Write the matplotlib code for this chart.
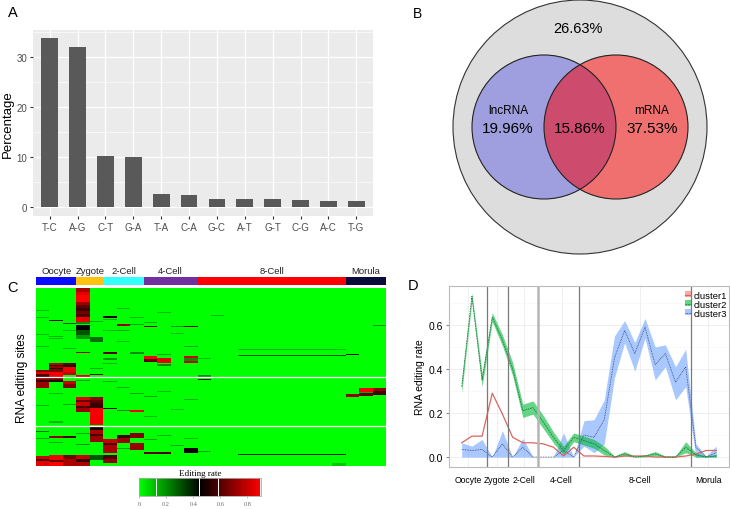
import numpy as np
import matplotlib
matplotlib.use('Agg')
import matplotlib.pyplot as plt
from matplotlib.colors import LinearSegmentedColormap, Normalize
from matplotlib.patches import Circle, Patch
from matplotlib.lines import Line2D
from matplotlib.cm import ScalarMappable

plt.rcParams['font.family'] = ['Liberation Sans', 'DejaVu Sans']

W, H = 730, 510

# ---- panel A: substitution types
subs = ['T-C', 'A-G', 'C-T', 'G-A', 'T-A', 'C-A', 'G-C', 'A-T', 'G-T', 'C-G', 'A-C', 'T-G']
pct = [33.8, 32.0, 10.2, 10.1, 2.7, 2.5, 1.7, 1.6, 1.6, 1.4, 1.3, 1.2]

# ---- panel B: venn percentages
venn_other = 26.63
venn_lnc_only = 19.96
venn_both = 15.86
venn_mrna_only = 37.53

# ---- stages (panels C and D)
stages = ['Oocyte', 'Zygote', '2-Cell', '4-Cell', '8-Cell', 'Morula']
stage_n = [3, 2, 3, 4, 11, 3]
stage_colors = ['#0b0bff', '#ffc20e', '#33ffff', '#7030a0', '#ff0000', '#0b0b3b']

# ---- panel C: editing rate per site; green (0) unless listed
n_sites = 178
# (first col, last col, first row, end row, rate)
hot_cells = [
    # cluster block 1
    (3, 3, 0, 4, 0.75), (3, 3, 4, 7, 0.85), (3, 3, 7, 14, 0.9), (3, 3, 14, 17, 0.72),
    (3, 3, 17, 20, 0.62), (3, 3, 20, 23, 0.55), (3, 3, 23, 26, 0.65), (3, 3, 26, 29, 0.6),
    (3, 3, 29, 34, 0.86), (3, 3, 34, 36, 0.2), (3, 3, 37, 42, 0.45), (3, 3, 42, 47, 0.3),
    (3, 3, 47, 51, 0.18), (4, 4, 49, 54, 0.25), (5, 5, 28, 30, 0.5), (5, 5, 31, 32, 0.15),
    (5, 5, 64, 66, 0.6), (5, 5, 70, 72, 0.18), (1, 1, 32, 33, 0.5), (2, 2, 35, 36, 0.3),
    (6, 6, 36, 38, 0.7), (7, 7, 64, 66, 0.2), (8, 8, 68, 71, 0.88), (8, 8, 71, 74, 0.6),
    (8, 8, 38, 39, 0.6), (9, 9, 70, 75, 0.85), (9, 9, 76, 78, 0.2), (11, 11, 68, 70, 0.82),
    (11, 11, 70, 73, 0.2), (11, 11, 73, 75, 0.8), (11, 11, 38, 39, 0.6),
    (1, 1, 75, 77, 0.75), (1, 1, 77, 78, 0.55), (1, 1, 78, 80, 0.7), (1, 1, 80, 81, 0.52),
    (1, 1, 81, 84, 0.68), (1, 1, 84, 89, 0.88),
    (2, 2, 75, 77, 0.62), (2, 2, 77, 79, 0.52), (2, 2, 79, 84, 0.88), (2, 2, 84, 87, 0.8),
    (0, 0, 82, 84, 0.7), (0, 0, 84, 86, 0.85), (0, 0, 86, 89, 0.6),
    (3, 3, 64, 65, 0.75), (3, 3, 87, 89, 0.85), (4, 4, 86, 87, 0.6),
    (0, 0, 29, 30, 0.12), (0, 0, 58, 59, 0.12), (1, 1, 50, 51, 0.12), (6, 6, 53, 54, 0.12),
    (0, 0, 22, 23, 0.12), (1, 1, 48, 49, 0.14), (2, 2, 42, 43, 0.12), (4, 4, 33, 34, 0.14),
    (5, 5, 42, 43, 0.12), (6, 6, 20, 21, 0.12), (7, 7, 29, 30, 0.12), (8, 8, 34, 35, 0.14),
    (9, 9, 24, 25, 0.12), (10, 10, 45, 46, 0.12), (11, 11, 58, 59, 0.16), (12, 12, 70, 71, 0.12),
    (2, 2, 60, 61, 0.12), (0, 0, 46, 47, 0.12), (6, 6, 42, 43, 0.16), (7, 7, 36, 37, 0.16),
    (9, 9, 66, 67, 0.16), (10, 10, 38, 39, 0.2), (5, 5, 75, 76, 0.14), (4, 4, 80, 81, 0.14),
    (15, 22, 61, 62, 0.12), (15, 22, 67, 68, 0.3), (23, 23, 66, 67, 0.45),
    (25, 25, 37, 38, 0.18), (13, 13, 27, 28, 0.12), (12, 12, 87, 89, 0.18),
    # cluster block 2
    (0, 0, 89, 92, 0.7), (0, 0, 92, 94, 0.55), (0, 0, 94, 100, 0.72), (1, 1, 89, 92, 0.65),
    (1, 1, 92, 94, 0.52), (2, 2, 93, 96, 0.8), (2, 2, 96, 100, 0.68),
    (3, 3, 109, 112, 0.85), (3, 3, 112, 114, 0.62), (3, 3, 114, 118, 0.8), (3, 3, 118, 120, 0.58),
    (3, 3, 120, 124, 0.72), (4, 4, 109, 112, 0.7), (4, 4, 112, 115, 0.62), (4, 4, 115, 120, 0.55),
    (4, 4, 120, 137, 0.88), (5, 5, 120, 121, 0.5), (7, 7, 122, 124, 0.88),
    (24, 24, 100, 104, 0.88), (24, 24, 104, 105, 0.15), (24, 24, 105, 108, 0.62),
    (25, 25, 100, 103, 0.7), (25, 25, 103, 107, 0.58),
    (23, 23, 106, 109, 0.7), (1, 1, 133, 135, 0.12), (12, 12, 91, 92, 0.5),
    (3, 3, 92, 93, 0.16), (5, 5, 93, 94, 0.14), (6, 6, 99, 100, 0.14), (7, 7, 105, 106, 0.16),
    (8, 8, 108, 109, 0.16), (9, 9, 103, 104, 0.12), (11, 11, 111, 112, 0.14), (1, 1, 105, 106, 0.12),
    (0, 0, 117, 118, 0.14), (2, 2, 116, 117, 0.16), (6, 6, 122, 123, 0.2), (8, 8, 128, 129, 0.12),
    (10, 10, 121, 122, 0.12),
    # cluster block 3
    (4, 4, 138, 142, 0.48), (4, 4, 142, 146, 0.75), (4, 4, 146, 148, 0.58), (4, 4, 148, 154, 0.72),
    (5, 5, 151, 155, 0.8), (5, 5, 155, 157, 0.58), (5, 5, 157, 165, 0.75),
    (6, 6, 147, 150, 0.55), (6, 6, 150, 155, 0.72), (7, 7, 145, 150, 0.68),
    (7, 7, 155, 162, 0.72), (8, 8, 164, 166, 0.62), (9, 9, 164, 166, 0.58), (11, 11, 160, 165, 0.48),
    (0, 0, 168, 171, 0.8), (0, 0, 171, 173, 0.58), (0, 0, 173, 178, 0.85),
    (1, 1, 167, 172, 0.88), (1, 1, 172, 174, 0.62), (1, 1, 174, 178, 0.9),
    (2, 2, 167, 171, 0.65), (2, 2, 171, 178, 0.75),
    (3, 3, 167, 171, 0.8), (3, 3, 171, 174, 0.55), (3, 3, 174, 178, 0.75),
    (4, 4, 167, 172, 0.3), (5, 5, 167, 171, 0.58), (5, 5, 171, 175, 0.7),
    (15, 22, 166, 167, 0.4), (22, 22, 175, 178, 0.1), (1, 1, 148, 150, 0.7),
    (2, 2, 148, 150, 0.58), (0, 0, 143, 144, 0.25),
    (0, 0, 150, 151, 0.16), (1, 1, 154, 155, 0.14), (3, 3, 145, 146, 0.16), (8, 8, 151, 152, 0.16),
    (9, 9, 147, 148, 0.14), (10, 10, 157, 158, 0.16), (11, 11, 150, 151, 0.14),
    (12, 12, 163, 164, 0.16), (3, 3, 156, 157, 0.2), (6, 6, 160, 161, 0.16),
]
cluster_breaks = [89.3, 138]
key_marks = [0.128, 0.44, 0.585, 0.89]

# ---- panel D: mean editing rate per cluster
c1_mean = [0.065, 0.095, 0.095, 0.29, 0.195, 0.09, 0.065, 0.065, 0.06, 0.045, 0.005, 0.045, 0.005,
           0.005, 0.003, 0.0, 0.005, 0.005, 0.005, 0.0, 0.0, 0.0, 0.005, 0.013, 0.03, 0.03]
c2_mean = [0.32, 0.73, 0.35, 0.635, 0.53, 0.40, 0.21, 0.225, 0.16, 0.09, 0.03, 0.09, 0.075,
           0.06, 0.03, 0.0, 0.015, 0.0, 0.005, 0.015, 0.0, 0.0, 0.045, 0.01, 0.0, 0.005]
c2_lo = [0.29, 0.71, 0.32, 0.615, 0.505, 0.37, 0.18, 0.195, 0.13, 0.065, 0.01, 0.07, 0.055,
         0.04, 0.01, 0.0, 0.005, 0.0, 0.0, 0.005, 0.0, 0.0, 0.02, 0.0, 0.0, 0.0]
c2_hi = [0.35, 0.745, 0.38, 0.655, 0.555, 0.43, 0.24, 0.255, 0.19, 0.115, 0.05, 0.11, 0.095,
         0.08, 0.05, 0.005, 0.025, 0.005, 0.01, 0.025, 0.005, 0.005, 0.07, 0.02, 0.005, 0.013]
c3_mean = [0.035, 0.03, 0.035, 0.0, 0.06, 0.0, 0.045, 0.0, 0.0, 0.0, 0.03, 0.0, 0.10,
           0.09, 0.17, 0.45, 0.575, 0.47, 0.59, 0.42, 0.47, 0.34, 0.41, 0.045, 0.0, 0.02]
c3_lo = [0.0, 0.0, 0.0, 0.0, 0.0, 0.0, 0.0, 0.0, 0.0, 0.0, 0.0, 0.0, 0.05,
         0.02, 0.06, 0.36, 0.52, 0.39, 0.54, 0.35, 0.41, 0.26, 0.32, 0.0, 0.0, 0.0]
c3_hi = [0.065, 0.05, 0.08, 0.0, 0.12, 0.0, 0.085, 0.0, 0.0, 0.0, 0.11, 0.0, 0.165,
         0.17, 0.26, 0.55, 0.62, 0.52, 0.63, 0.50, 0.51, 0.41, 0.49, 0.06, 0.005, 0.05]
stage_label_x = [0.65, 3.5, 6.1, 9.8, 17.5, 24.2]


def box(x0, y0, x1, y1):
    # pixel box (top-left origin) -> figure fraction
    return [x0 / W, 1 - y1 / H, (x1 - x0) / W, (y1 - y0) / H]


fig = plt.figure(figsize=(7.3, 5.1), dpi=100)

# ================= A
axA = fig.add_axes(box(33, 31, 373, 217))
xa = np.arange(len(subs))
axA.set_facecolor('#ebebeb')
axA.bar(xa, pct, width=0.6, color='#595959', zorder=3)
axA.set_xlim(-0.6, len(subs) - 0.4)
axA.set_ylim(-1.7, 35.4)
axA.set_yticks([0, 10, 20, 30])
axA.set_yticks([5, 15, 25, 35], minor=True)
axA.set_xticks(xa)
axA.set_xticklabels(subs)
axA.grid(True, which='major', color='white', lw=0.9, zorder=0)
axA.grid(True, which='minor', axis='y', color='white', lw=0.45, zorder=0)
axA.tick_params(which='major', length=2, color='#333333', labelsize=7, labelcolor='#4d4d4d', pad=2)
axA.tick_params(which='minor', length=0)
for s in axA.spines.values():
    s.set_visible(False)
axA.set_ylabel('Percentage', fontsize=9.5, labelpad=2)
fig.text(8 / W, 1 - 13 / H, 'A', fontsize=10.5, va='center')

# ================= B
axB = fig.add_axes(box(365, 0, 730, 260))
axB.set_xlim(365, 730)
axB.set_ylim(260, 0)
axB.axis('off')
axB.add_patch(Circle((580, 128), 127, facecolor='#dddddd', edgecolor='#333333', lw=0.8))
blue = Circle((544, 128), 72, facecolor='#9f9fdf', edgecolor='none')
axB.add_patch(blue)
axB.add_patch(Circle((616, 128), 72, facecolor='#f07070', edgecolor='none'))
both = Circle((616, 128), 72, facecolor='#cd4c6e', edgecolor='none')
axB.add_patch(both)
both.set_clip_path(blue)
axB.add_patch(Circle((544, 128), 72, facecolor='none', edgecolor='#222222', lw=0.8))
axB.add_patch(Circle((616, 128), 72, facecolor='none', edgecolor='#222222', lw=0.8))
axB.text(578, 29, f'{venn_other:.2f}%', fontsize=10.5, ha='center', va='center')
axB.text(508, 111, 'lncRNA', fontsize=8.5, ha='center', va='center')
axB.text(508, 129, f'{venn_lnc_only:.2f}%', fontsize=11, ha='center', va='center')
axB.text(580, 129, f'{venn_both:.2f}%', fontsize=11, ha='center', va='center')
axB.text(652, 111, 'mRNA', fontsize=8.5, ha='center', va='center')
axB.text(652, 129, f'{venn_mrna_only:.2f}%', fontsize=11, ha='center', va='center')
fig.text(413 / W, 1 - 14 / H, 'B', fontsize=10, va='center')

# ================= C
n_cols = sum(stage_n)
mat = np.zeros((n_sites, n_cols))
for c0, c1, r0, r1, v in hot_cells:
    mat[r0:r1, c0:c1 + 1] = v
gbr = LinearSegmentedColormap.from_list('gbr', ['#00ff00', '#000000', '#ff0000'])
norm = Normalize(0, 0.9)

axC = fig.add_axes(box(36, 289, 386, 467))
axC.imshow(mat, aspect='auto', cmap=gbr, norm=norm, interpolation='nearest',
           extent=(0, n_cols, n_sites, 0))
for yb in cluster_breaks:
    axC.axhline(yb, color='white', lw=0.9)
axC.set_xticks([])
axC.set_yticks([])
for s in axC.spines.values():
    s.set_visible(False)
axC.set_ylabel('RNA editing sites', fontsize=8.5, labelpad=6)

axS = fig.add_axes(box(36, 278, 386, 286))
starts = np.concatenate([[0], np.cumsum(stage_n)[:-1]])
axS.barh(0, stage_n, left=starts, height=1, color=stage_colors)
axS.set_xlim(0, n_cols)
axS.set_ylim(-0.5, 0.5)
axS.axis('off')
for st, n, name in zip(starts, stage_n, stages):
    axS.text(st + n / 2, 0.8, name, fontsize=6.8, ha='center', va='bottom', color='#222222')
fig.text(7 / W, 1 - 288 / H, 'C', fontsize=10.5, va='center')

cax = fig.add_axes(box(139, 479, 261, 497))
cb = fig.colorbar(ScalarMappable(norm=norm, cmap=gbr), cax=cax, orientation='horizontal')
cb.set_ticks([0, 0.2, 0.4, 0.6, 0.8])
cb.set_ticklabels(['0', '0.2', '0.4', '0.6', '0.8'])
cb.ax.tick_params(labelsize=4.5, length=1.5, width=0.4, color='#888888', labelcolor='#666666', pad=2)
for lab in cb.ax.get_xticklabels():
    lab.set_family('Liberation Serif')
cb.outline.set_edgecolor('#aaaaaa')
cb.outline.set_linewidth(0.6)
for km in key_marks:
    cax.axvline(km, color='white', lw=0.7)
cax.set_title('Editing rate', fontsize=6.5, family='Liberation Serif', pad=2)

# ================= D
axD = fig.add_axes(box(449, 287, 729, 468))
xd = np.arange(n_cols)
axD.fill_between(xd, c3_lo, c3_hi, color='#619cff', alpha=0.55, lw=0)
axD.fill_between(xd, c2_lo, c2_hi, color='#00ba38', alpha=0.6, lw=0)
axD.plot(xd, c1_mean, color='#d9675f', lw=0.9)
axD.plot(xd, c2_mean, color='#1d7a3e', lw=0.6, ls=(0, (2, 1)))
axD.plot(xd, c3_mean, color='#3a4670', lw=0.6, ls=(0, (1, 1)))
bounds = np.cumsum(stage_n)[:-1] - 0.5
for b in bounds:
    if b == 7.5:
        axD.axvline(b, color='#b5b5b5', lw=1.8)
    else:
        axD.axvline(b, color='#7a7a7a', lw=0.9)
axD.set_xticks(stage_label_x)
axD.set_xticklabels(stages)
axD.set_xlim(-1.25, n_cols + 0.25)
axD.set_ylim(-0.045, 0.777)
axD.set_yticks([0, 0.2, 0.4, 0.6])
axD.set_yticklabels(['0.0', '0.2', '0.4', '0.6'])
axD.set_yticks([0.1, 0.3, 0.5, 0.7], minor=True)
axD.grid(True, which='major', color='#ececec', lw=0.6)
axD.grid(True, which='minor', axis='y', color='#f5f5f5', lw=0.4)
axD.set_axisbelow(True)
axD.tick_params(axis='y', labelsize=7.5, length=2, color='#888888', pad=2)
axD.tick_params(axis='x', labelsize=6.2, length=0, color='#888888', pad=6)
axD.tick_params(which='minor', length=0)
for s in axD.spines.values():
    s.set_color('#bbbbbb')
    s.set_linewidth(0.8)
axD.set_ylabel('RNA editing rate', fontsize=7.5, labelpad=3)
handles = [
    (Patch(facecolor='#f8766d', alpha=0.6), Line2D([], [], color='#d9675f', lw=0.9)),
    (Patch(facecolor='#00ba38', alpha=0.6), Line2D([], [], color='#1d7a3e', lw=0.6, ls=(0, (2, 1)))),
    (Patch(facecolor='#619cff', alpha=0.55), Line2D([], [], color='#3a4670', lw=0.6, ls=(0, (1, 1)))),
]
axD.legend(handles, ['cluster1', 'cluster2', 'cluster3'], loc='upper right',
           bbox_to_anchor=(1.01, 1.0), fontsize=6.8, frameon=False, handlelength=0.6,
           handleheight=0.6, handletextpad=0.3, labelspacing=0.0, borderaxespad=0.1)
fig.text(408 / W, 1 - 286 / H, 'D', fontsize=10.5, va='center')

fig.savefig('out.png', dpi=100)
